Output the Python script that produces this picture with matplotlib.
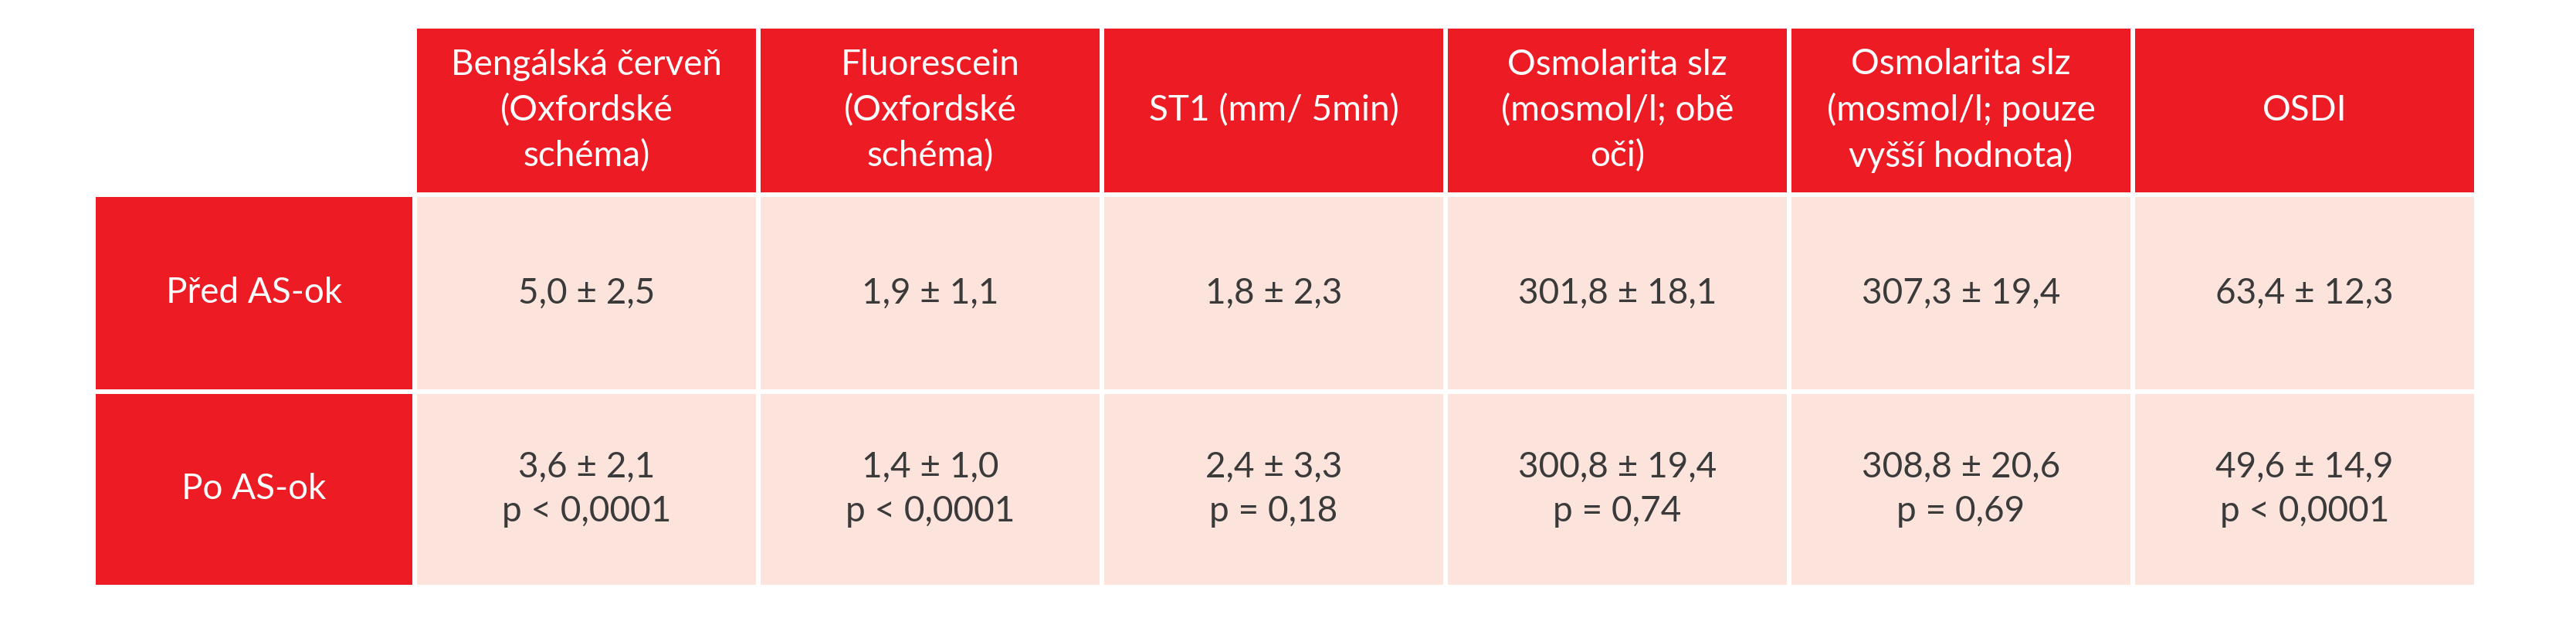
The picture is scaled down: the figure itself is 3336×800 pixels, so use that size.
import matplotlib
matplotlib.use("Agg")
import matplotlib.pyplot as plt
from matplotlib.patches import Rectangle

columns = ["Bengálská červeň\n(Oxfordské\nschéma)", "Fluorescein\n(Oxfordské\nschéma)",
           "ST1 (mm/ 5min)", "Osmolarita slz\n(mosmol/l; obě\noči)",
           "Osmolarita slz\n(mosmol/l; pouze\nvyšší hodnota)", "OSDI"]
rows = ["Před AS-ok", "Po AS-ok"]
before = ["5,0 ± 2,5", "1,9 ± 1,1", "1,8 ± 2,3", "301,8 ± 18,1", "307,3 ± 19,4", "63,4 ± 12,3"]
after = ["3,6 ± 2,1", "1,4 ± 1,0", "2,4 ± 3,3", "300,8 ± 19,4", "308,8 ± 20,6", "49,6 ± 14,9"]
pvals = ["p < 0,0001", "p < 0,0001", "p = 0,18", "p = 0,74", "p = 0,69", "p < 0,0001"]

W, H = 3337, 800
fig = plt.figure(figsize=(W/100, H/100), dpi=100)
ax = fig.add_axes([0, 0, 1, 1])
ax.set_xlim(0, W); ax.set_ylim(H, 0); ax.axis("off")
RED = "#ED1C24"; CELL = "#FCE4DC"; TXT = "#3a3a3a"
FONT = ["Lato", "DejaVu Sans"]
x0, xc, cw = 121, 537, 445
yh0, yh1, yr1, yr2 = 34, 252, 507, 760
g = 3
fs = 33

def box(x, y, w, h, c):
    ax.add_patch(Rectangle((x+g, y+g), w-2*g, h-2*g, color=c, lw=0))

for i, c in enumerate(columns):
    x = xc + i*cw
    box(x, yh0, cw, yh1-yh0, RED)
    ax.text(x+cw/2, (yh0+yh1)/2, c, ha="center", va="center", color="white",
            fontsize=fs, family=FONT, linespacing=1.45)
for j, (r, y0, y1) in enumerate([(rows[0], yh1, yr1), (rows[1], yr1, yr2)]):
    box(x0, y0, xc-x0, y1-y0, RED)
    ax.text((x0+xc)/2, (y0+y1)/2, r, ha="center", va="center", color="white",
            fontsize=fs, family=FONT)
    for i in range(len(columns)):
        x = xc + i*cw
        box(x, y0, cw, y1-y0, CELL)
        t = before[i] if j == 0 else after[i] + "\n" + pvals[i]
        ax.text(x+cw/2, (y0+y1)/2, t, ha="center", va="center", color=TXT,
                fontsize=fs, family=FONT, linespacing=1.45)
fig.savefig("out.png", dpi=100, facecolor="white")
